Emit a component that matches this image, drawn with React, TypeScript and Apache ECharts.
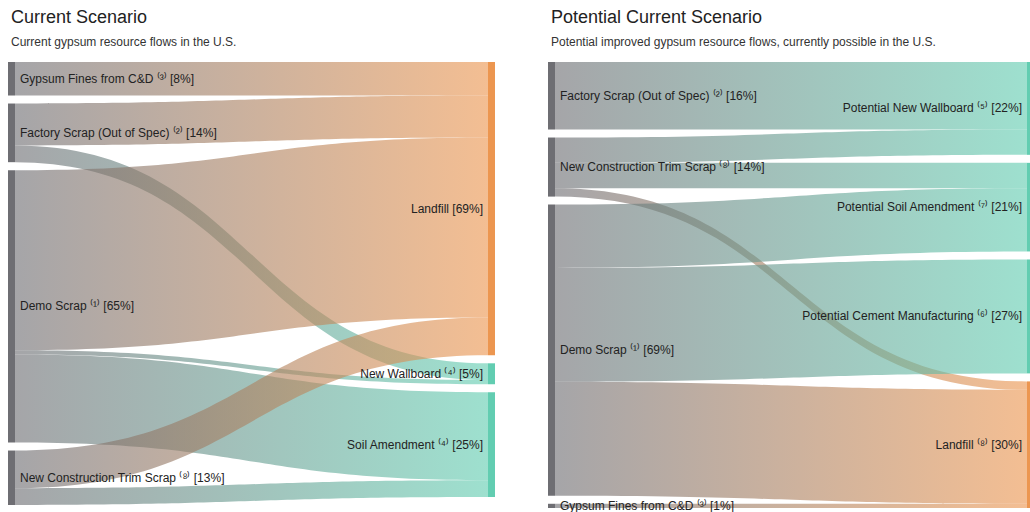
import React, { useEffect, useRef } from "react";
import * as echarts from "echarts";

// ---- Current scenario (left) ----
const curSources = [
  { name: "Gypsum Fines from C&D", sup: "⁽³⁾", pct: "8%" },
  { name: "Factory Scrap (Out of Spec)", sup: "⁽²⁾", pct: "14%" },
  { name: "Demo Scrap", sup: "⁽¹⁾", pct: "65%" },
  { name: "New Construction Trim Scrap", sup: "⁽⁸⁾", pct: "13%" },
];
const curTargets = [
  { name: "Landfill", sup: "", pct: "69%", kind: "landfill" },
  { name: "New Wallboard", sup: "⁽⁴⁾", pct: "5%", kind: "reuse" },
  { name: "Soil Amendment", sup: "⁽⁴⁾", pct: "25%", kind: "reuse" },
];
const curLinks: [string, string, number][] = [
  ["Gypsum Fines from C&D", "Landfill", 8],
  ["Factory Scrap (Out of Spec)", "Landfill", 10],
  ["Factory Scrap (Out of Spec)", "New Wallboard", 4],
  ["Demo Scrap", "Landfill", 43],
  ["Demo Scrap", "New Wallboard", 1],
  ["Demo Scrap", "Soil Amendment", 21],
  ["New Construction Trim Scrap", "Landfill", 9],
  ["New Construction Trim Scrap", "Soil Amendment", 4],
];

// ---- Potential current scenario (right) ----
const potSources = [
  { name: "Factory Scrap (Out of Spec)", sup: "⁽²⁾", pct: "16%" },
  { name: "New Construction Trim Scrap", sup: "⁽⁸⁾", pct: "14%" },
  { name: "Demo Scrap", sup: "⁽¹⁾", pct: "69%" },
  { name: "Gypsum Fines from C&D", sup: "⁽³⁾", pct: "1%" },
];
const potTargets = [
  { name: "Potential New Wallboard", sup: "⁽⁵⁾", pct: "22%", kind: "reuse" },
  { name: "Potential Soil Amendment", sup: "⁽⁷⁾", pct: "21%", kind: "reuse" },
  { name: "Potential Cement Manufacturing", sup: "⁽⁶⁾", pct: "27%", kind: "reuse" },
  { name: "Landfill", sup: "⁽⁸⁾", pct: "30%", kind: "landfill" },
];
const potLinks: [string, string, number][] = [
  ["Factory Scrap (Out of Spec)", "Potential New Wallboard", 16],
  ["New Construction Trim Scrap", "Potential New Wallboard", 6],
  ["New Construction Trim Scrap", "Potential Soil Amendment", 6],
  ["New Construction Trim Scrap", "Landfill", 2],
  ["Demo Scrap", "Potential Soil Amendment", 15],
  ["Demo Scrap", "Potential Cement Manufacturing", 27],
  ["Demo Scrap", "Landfill", 27],
  ["Gypsum Fines from C&D", "Landfill", 1],
];

const GRAY = "#6e6e73";
const ORANGE = "#ec9650";
const TEAL = "#62cdb1";
const FONT = "Liberation Sans, Arial, sans-serif";

function label(n: { name: string; sup: string; pct: string }) {
  return n.sup ? `${n.name} ${n.sup} [${n.pct}]` : `${n.name} [${n.pct}]`;
}

function buildNodes(sources: any[], targets: any[]) {
  const s = sources.map((n) => ({
    name: n.name,
    itemStyle: { color: GRAY },
    label: { position: "right", distance: 5, formatter: label(n) },
  }));
  const t = targets.map((n) => ({
    name: n.name,
    itemStyle: { color: n.kind === "landfill" ? ORANGE : TEAL },
    label: { position: "left", distance: 5, formatter: label(n) },
  }));
  return [...s, ...t];
}

function buildLinks(links: [string, string, number][]) {
  return links.map(([source, target, value]) => ({ source, target, value }));
}

export default function App() {
  const ref = useRef<HTMLDivElement>(null);
  useEffect(() => {
    document.body.style.margin = "0";
    const chart = echarts.init(ref.current!, null, { renderer: "svg" });
    const common = {
      type: "sankey",
      nodeWidth: 7,
      nodeGap: 8,
      layoutIterations: 0,
      draggable: false,
      emphasis: { disabled: true },
      label: { color: "#222", fontSize: 12, fontFamily: FONT },
      itemStyle: { borderWidth: 0 },
      lineStyle: { color: "gradient", opacity: 0.62, curveness: 0.5 },
    };
    chart.setOption({
      animation: false,
      backgroundColor: "#ffffff",
      title: [
        {
          text: "Current Scenario",
          subtext: "Current gypsum resource flows in the U.S.",
          left: 6,
          top: 3,
          itemGap: 10,
          textStyle: { fontSize: 18, fontWeight: "normal", color: "#222", fontFamily: FONT },
          subtextStyle: { fontSize: 12, color: "#333", fontFamily: FONT },
        },
        {
          text: "Potential Current Scenario",
          subtext: "Potential improved gypsum resource flows, currently possible in the U.S.",
          left: 546,
          top: 3,
          itemGap: 10,
          textStyle: { fontSize: 18, fontWeight: "normal", color: "#222", fontFamily: FONT },
          subtextStyle: { fontSize: 12, color: "#333", fontFamily: FONT },
        },
      ],
      series: [
        {
          ...common,
          left: 8,
          top: 62,
          width: 487,
          height: 443,
          data: buildNodes(curSources, curTargets),
          links: buildLinks(curLinks),
        },
        {
          ...common,
          left: 548,
          top: 62,
          width: 486,
          height: 446,
          data: buildNodes(potSources, potTargets),
          links: buildLinks(potLinks),
        },
      ],
    });
    return () => chart.dispose();
  }, []);
  return <div ref={ref} style={{ width: 1030, height: 512 }} />;
}
